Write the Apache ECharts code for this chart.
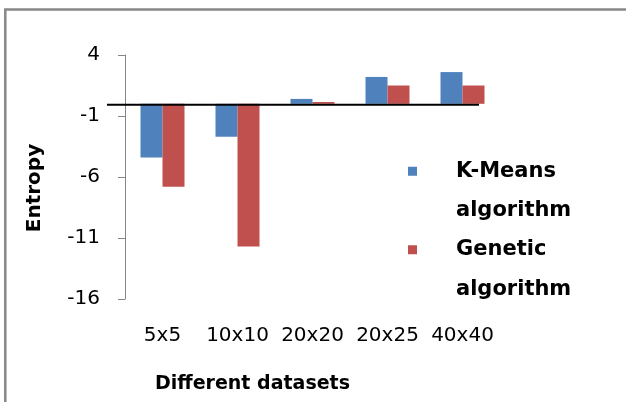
<!DOCTYPE html>
<html><head><meta charset="utf-8">
<script src="https://cdn.jsdelivr.net/npm/echarts@6/dist/echarts.min.js"></script>
<style>html,body{margin:0;padding:0;background:#fff;}#c{width:626px;height:402px;}</style>
</head><body><div id="c"></div>
<script>
const categories = ['5x5', '10x10', '20x20', '20x25', '40x40'];
const kmeans = [-4.4, -2.7, 0.4, 2.2, 2.6];
const genetic = [-6.8, -11.7, 0.15, 1.5, 1.5];
const seriesNames = ['K-Means\nalgorithm', 'Genetic\nalgorithm'];
const yTicks = { min: -16, max: 4, interval: 5 };

const FONT = 'DejaVu Sans';
const chart = echarts.init(document.getElementById('c'), null, { renderer: 'canvas' });
chart.setOption({
  animation: false,
  backgroundColor: '#fff',
  grid: { left: 125, right: 126, top: 55, bottom: 103, containLabel: false },
  legend: {
    orient: 'vertical', left: 408, top: 112, padding: 0, itemGap: -40,
    itemWidth: 9, itemHeight: 9, icon: 'rect',
    data: seriesNames,
    formatter: function (name) { return '\n' + name; },
    textStyle: { fontFamily: FONT, fontWeight: 'bold', fontSize: 21, color: '#000',
      lineHeight: 39.5, padding: [0, 0, 0, 34] }
  },
  xAxis: {
    type: 'category', data: categories,
    axisLine: { show: false }, axisTick: { show: false },
    axisLabel: { fontFamily: FONT, fontSize: 20, color: '#000', margin: 27, interval: 0 },
    name: 'Different datasets', nameLocation: 'middle', nameGap: 76,
    nameTextStyle: { fontFamily: FONT, fontWeight: 'bold', fontSize: 19, color: '#000', padding: [0, 120, 0, 0] }
  },
  yAxis: {
    type: 'value', min: yTicks.min, max: yTicks.max, interval: yTicks.interval,
    splitLine: { show: false },
    axisLine: { show: true, onZero: false, lineStyle: { color: '#868686', width: 1 } },
    axisTick: { show: true, length: 7, inside: false, lineStyle: { color: '#868686' } },
    axisLabel: { fontFamily: FONT, fontSize: 20, color: '#000', margin: 25 },
    name: 'Entropy', nameLocation: 'middle', nameGap: 80, nameRotate: 90,
    nameTextStyle: { fontFamily: FONT, fontWeight: 'bold', fontSize: 20, color: '#000', padding: [0, 22, 0, 0] }
  },
  series: [
    { name: seriesNames[0], type: 'bar', data: kmeans, barWidth: 22, barGap: '0%',
      itemStyle: { color: '#4F81BD' } },
    { name: seriesNames[1], type: 'bar', data: genetic, barWidth: 22, barGap: '0%',
      itemStyle: { color: '#C0504D' } }
  ]
});
const y0 = chart.convertToPixel({ yAxisIndex: 0 }, 0);
chart.setOption({
  graphic: [
    { type: 'line', shape: { x1: 107, y1: y0 + 1, x2: 479, y2: y0 + 1 },
      style: { stroke: '#000', lineWidth: 2 }, z: 100 },
    { type: 'rect', shape: { x: 5.3, y: 9.5, width: 700, height: 500 },
      style: { fill: 'none', stroke: '#888', lineWidth: 2.5 }, z: 100 }
  ]
});
</script></body></html>
